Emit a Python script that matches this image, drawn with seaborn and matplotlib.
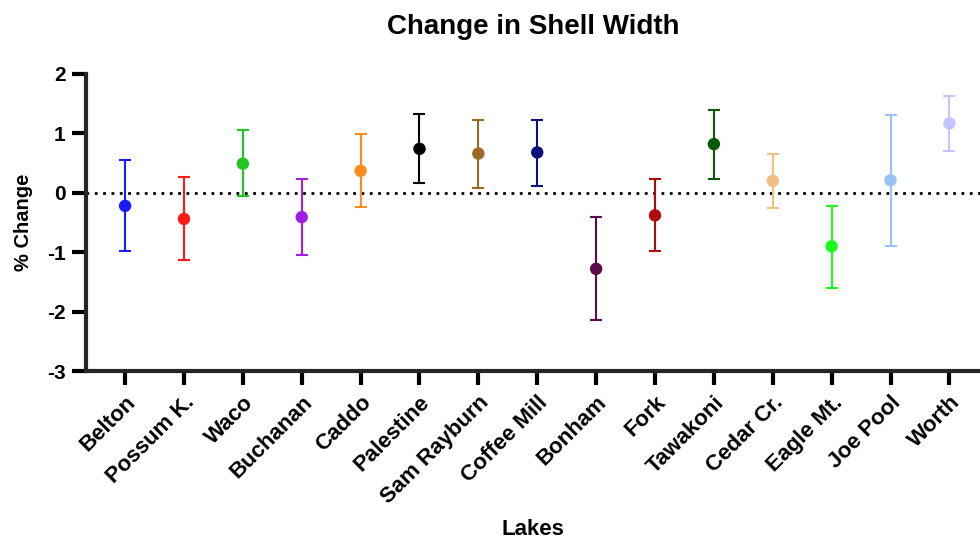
import numpy as np
import pandas as pd
import seaborn as sns
import matplotlib.pyplot as plt

# data
lakes = ['Belton', 'Possum K.', 'Waco', 'Buchanan', 'Caddo', 'Palestine',
         'Sam Rayburn', 'Coffee Mill', 'Bonham', 'Fork', 'Tawakoni',
         'Cedar Cr.', 'Eagle Mt.', 'Joe Pool', 'Worth']
mean_change = [-0.22, -0.44, 0.49, -0.41, 0.37, 0.74, 0.66, 0.68,
               -1.28, -0.38, 0.82, 0.20, -0.90, 0.21, 1.17]
upper = [0.55, 0.26, 1.06, 0.23, 0.99, 1.32, 1.23, 1.23,
         -0.41, 0.23, 1.39, 0.65, -0.22, 1.31, 1.63]
lower = [-0.98, -1.13, -0.06, -1.05, -0.24, 0.16, 0.08, 0.12,
         -2.14, -0.98, 0.24, -0.26, -1.60, -0.89, 0.71]
colors = ['#1a1aff', '#ff1a1a', '#1ec81e', '#a21ee6', '#ff8c1a', '#000000',
          '#9c6a24', '#0a1080', '#5c0a4c', '#b00a0a', '#0a5a0a',
          '#f0c080', '#1aff1a', '#98c4f4', '#c4c4ff']

df = pd.DataFrame({'lake': lakes, 'change': mean_change,
                   'lo': lower, 'hi': upper})

sns.set_style('ticks')
plt.rcParams['font.family'] = ['Liberation Sans', 'DejaVu Sans']
plt.rcParams['axes.unicode_minus'] = False
plt.rcParams['text.color'] = 'black'
plt.rcParams['axes.labelcolor'] = 'black'
plt.rcParams['xtick.color'] = 'black'
plt.rcParams['ytick.color'] = 'black'

fig = plt.figure(figsize=(9.8, 5.44), dpi=100)
ax = fig.add_axes([0.088, 0.318, 0.912, 0.546])

# dotted zero reference line
ax.axhline(0, color='black', linestyle=(0, (1, 2)), linewidth=2, zorder=1)

x = np.arange(len(df))
for i, row in df.iterrows():
    ax.errorbar(i, row['change'],
                yerr=[[row['change'] - row['lo']], [row['hi'] - row['change']]],
                fmt='none', ecolor=colors[i], elinewidth=1.5, capsize=4.5,
                capthick=1.5, zorder=2)

sns.scatterplot(data=df, x='lake', y='change', hue='lake', palette=colors,
                s=80, edgecolor='none', legend=False, ax=ax, zorder=3)

ax.set_xlim(-0.66, 14.52)
ax.set_ylim(-3, 2)
ax.set_yticks([-3, -2, -1, 0, 1, 2])
ax.set_xticks(x)
ax.set_xticklabels(lakes, rotation=45, ha='right', rotation_mode='anchor',
                   fontsize=16, fontweight='bold')
for lab in ax.get_yticklabels():
    lab.set_fontsize(15)
    lab.set_fontweight('bold')

for s in ['top', 'right']:
    ax.spines[s].set_visible(False)
for s in ['left', 'bottom']:
    ax.spines[s].set_linewidth(3)
ax.tick_params(axis='both', width=3, length=10, color='black', pad=5)

ax.set_title('Change in Shell Width', fontsize=20, fontweight='bold', pad=29)
ax.set_ylabel('% Change', fontsize=14.5, fontweight='bold', labelpad=10)
ax.set_xlabel('Lakes', fontsize=16, fontweight='bold', labelpad=8)

fig.savefig('out.png', dpi=100)
